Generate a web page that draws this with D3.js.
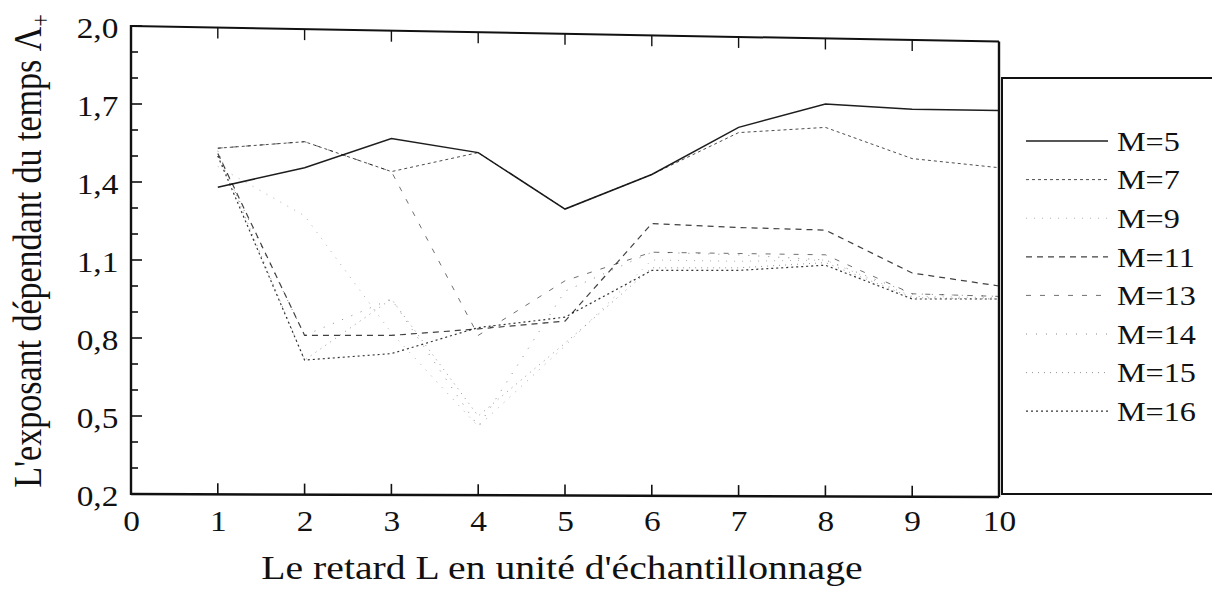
<!DOCTYPE html>
<html>
<head>
<meta charset="utf-8">
<script src="https://cdn.jsdelivr.net/npm/d3@7"></script>
<style>
  html, body { margin: 0; padding: 0; background: #fff; }
  svg { display: block; }
  text { font-family: "Liberation Serif", "Times New Roman", serif; fill: #111; }
</style>
</head>
<body>
<div id="chart"></div>
<script>
// Delay L (sampling units)
const lags = [1, 2, 3, 4, 5, 6, 7, 8, 9, 10];

// Time-dependent exponent Λ+ for each embedding dimension M
const seriesNames = ["M=5", "M=7", "M=9", "M=11", "M=13", "M=14", "M=15", "M=16"];
const m5  = [1.38, 1.455, 1.567, 1.513, 1.296, 1.429, 1.61, 1.70, 1.68, 1.675];
const m7  = [1.53, 1.555, 1.44, 1.513, 1.296, 1.429, 1.59, 1.61, 1.49, 1.455];
const m9  = [1.46, 1.27, 0.82, 0.46, 0.77, 1.10, 1.095, 1.10, 0.96, 0.955];
const m11 = [1.51, 0.81, 0.81, 0.835, 0.865, 1.24, 1.225, 1.215, 1.05, 1.00];
const m13 = [1.53, 1.555, 1.44, 0.81, 1.02, 1.13, 1.125, 1.12, 0.97, 0.96];
const m14 = [1.50, 0.81, 0.95, 0.46, 0.98, 1.13, 1.12, 1.10, 0.97, 0.96];
const m15 = [1.52, 0.715, 0.95, 0.50, 0.78, 1.07, 1.07, 1.09, 0.955, 0.95];
const m16 = [1.50, 0.715, 0.74, 0.84, 0.88, 1.06, 1.06, 1.08, 0.95, 0.95];
const seriesValues = [m5, m7, m9, m11, m13, m14, m15, m16];

// Axis ticks
const xTicks = [0, 1, 2, 3, 4, 5, 6, 7, 8, 9, 10];
const yTicks = [0.2, 0.5, 0.8, 1.1, 1.4, 1.7, 2.0];
const yMinorTicks = d3.range(2, 21).map(d => d / 10);

// Line styles per series
const styles = [
  { dash: null,    width: 1.5, opacity: 0.95 },
  { dash: "3,3",   width: 1.0, opacity: 0.75 },
  { dash: "1,7",   width: 1.0, opacity: 0.35 },
  { dash: "6,5",   width: 1.2, opacity: 0.8 },
  { dash: "5,9",   width: 1.0, opacity: 0.6 },
  { dash: "1,9",   width: 1.0, opacity: 0.5 },
  { dash: "1,5",   width: 1.0, opacity: 0.45 },
  { dash: "2,3",   width: 1.2, opacity: 0.85 }
];

const W = 1212, H = 591;
const SX = 1.15; // horizontal stretch of the lettering
const svg = d3.select("#chart").append("svg").attr("width", W).attr("height", H);

const x = d3.scaleLinear().domain([0, 10]).range([131, 999]);
const y = d3.scaleLinear().domain([0.2, 2.0]).range([494, 26]);

// Plot frame (the top edge runs slightly downhill to the right)
const frame = svg.append("g").attr("stroke", "#111").attr("fill", "none");
const topY = v => y(2.0) + (y(1.94) - y(2.0)) * (v / 10);
frame.append("line").attr("x1", x(0)).attr("x2", x(0)).attr("y1", y(2.0) - 1).attr("y2", y(0.2) + 1).attr("stroke-width", 2.4);
frame.append("line").attr("x1", x(0)).attr("x2", x(10)).attr("y1", y(0.2)).attr("y2", y(0.2) + 3).attr("stroke-width", 2.4);
frame.append("line").attr("x1", x(0)).attr("x2", x(10)).attr("y1", topY(0)).attr("y2", topY(10)).attr("stroke-width", 2);
frame.append("line").attr("x1", x(10)).attr("x2", x(10)).attr("y1", topY(10)).attr("y2", y(0.2) + 3).attr("stroke-width", 2.4);

// Left axis: labels and inward ticks
const yAxis = d3.axisLeft(y).tickValues(yTicks).tickSize(0).tickPadding(11)
  .tickFormat(d => d3.format(".1f")(d).replace(".", ","));
const gy = svg.append("g").attr("transform", `translate(${x(0)},0)`).call(yAxis);
gy.select(".domain").remove();
gy.selectAll("text").attr("font-size", 29).attr("dy", "0.4em")
  .attr("transform", `scale(${SX},1)`)
  .style("font-family", '"Liberation Serif", serif');
svg.append("g").selectAll("line").data(yMinorTicks).join("line")
  .attr("x1", x(0)).attr("x2", d => x(0) + (Math.round(d * 10) % 3 === 2 ? 11 : 7))
  .attr("y1", d => y(d)).attr("y2", d => y(d))
  .attr("stroke", "#111").attr("stroke-width", 1.6);

// Bottom axis: labels and inward ticks, mirrored on the top edge
const xAxis = d3.axisBottom(x).tickValues(xTicks).tickSize(0).tickPadding(28).tickFormat(d3.format("d"));
const gx = svg.append("g").attr("transform", `translate(0,${y(0.2)})`).call(xAxis);
gx.select(".domain").remove();
gx.selectAll("text").attr("font-size", 29).attr("dy", "0.3em")
  .attr("transform", `scale(${SX},1)`)
  .style("font-family", '"Liberation Serif", serif');
svg.append("g").selectAll("line").data(xTicks.slice(1, 10)).join("line")
  .attr("x1", d => x(d)).attr("x2", d => x(d))
  .attr("y1", d => y(0.2) + 0.3 * d).attr("y2", d => y(0.2) + 0.3 * d - 11)
  .attr("stroke", "#111").attr("stroke-width", 1.6);
svg.append("g").selectAll("line").data(xTicks.slice(1, 10)).join("line")
  .attr("x1", d => x(d)).attr("x2", d => x(d))
  .attr("y1", d => topY(d)).attr("y2", d => topY(d) + 11)
  .attr("stroke", "#111").attr("stroke-width", 1.4);

// Data lines
const line = d3.line().x((d, i) => x(lags[i])).y(d => y(d));
const gl = svg.append("g").attr("fill", "none");
seriesValues.forEach((vals, k) => {
  const s = styles[k];
  gl.append("path").datum(vals).attr("d", line)
    .attr("stroke", "#111")
    .attr("stroke-width", s.width)
    .attr("stroke-opacity", s.opacity)
    .attr("stroke-dasharray", s.dash);
});

// Legend box
const lg = svg.append("g");
lg.append("path")
  .attr("d", `M${W + 5},78 H1002 V494 H${W + 5}`)
  .attr("fill", "none").attr("stroke", "#111").attr("stroke-width", 2);
const rowY = i => 141 + i * 38.6;
seriesNames.forEach((name, i) => {
  const s = styles[i];
  lg.append("line")
    .attr("x1", 1026).attr("x2", 1108).attr("y1", rowY(i)).attr("y2", rowY(i))
    .attr("stroke", "#111").attr("stroke-width", s.width)
    .attr("stroke-opacity", s.opacity).attr("stroke-dasharray", s.dash);
  lg.append("text")
    .attr("transform", `translate(1117,${rowY(i)}) scale(${SX},1)`)
    .attr("dy", "0.35em").attr("font-size", 28).text(name);
});

// Axis titles
svg.append("text").attr("transform", `translate(562,579) scale(${SX},1)`)
  .attr("text-anchor", "middle").attr("font-size", 34.5)
  .text("Le retard L en unité d'échantillonnage");
const yt = svg.append("text").attr("transform", `translate(41,251) scale(${SX},1) rotate(-90)`)
  .attr("text-anchor", "middle").attr("font-size", 34);
yt.append("tspan").text("L'exposant dépendant du temps Λ");
yt.append("tspan").attr("dy", 7).attr("font-size", 22).text("+");
</script>
</body>
</html>
